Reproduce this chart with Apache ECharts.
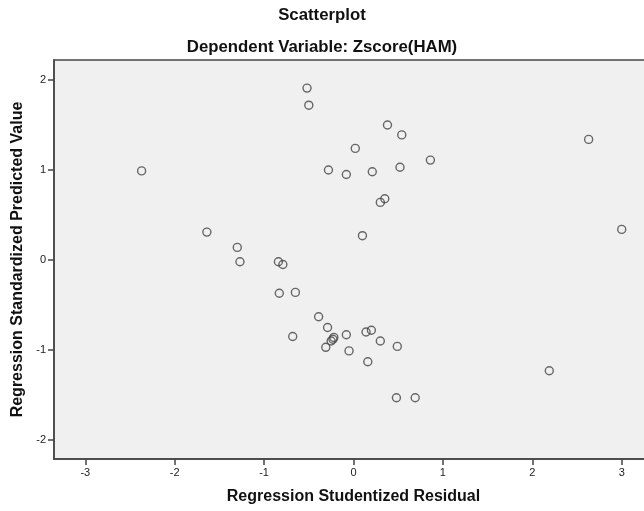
<!DOCTYPE html>
<html>
<head>
<meta charset="utf-8">
<script src="https://cdn.jsdelivr.net/npm/echarts@6/dist/echarts.min.js"></script>
<style>
  html, body { margin: 0; padding: 0; background: #fff; }
  #chart { width: 644px; height: 511px; }
</style>
</head>
<body>
<div id="chart"></div>
<script>
// studentized residual (x) / standardized predicted value (y)
var residuals = [-0.52, -0.50, 0.38, 0.54, 2.63, 0.02, 0.86, -2.37, -0.28, -0.08,
    0.21, 0.52, 0.30, 0.35, 0.10, 3.00, -1.64, -1.30, -1.27, -0.84,
    -0.79, -0.83, -0.65, -0.39, -0.29, -0.68, -0.22, -0.23, -0.25, -0.31,
    -0.08, -0.05, 0.14, 0.20, 0.30, 0.49, 0.16, 2.19, 0.48, 0.69];
var predicted = [1.91, 1.72, 1.50, 1.39, 1.34, 1.24, 1.11, 0.99, 1.00, 0.95,
    0.98, 1.03, 0.64, 0.68, 0.27, 0.34, 0.31, 0.14, -0.02, -0.02,
    -0.05, -0.37, -0.36, -0.63, -0.75, -0.85, -0.86, -0.88, -0.90, -0.97,
    -0.83, -1.01, -0.80, -0.78, -0.90, -0.96, -1.13, -1.23, -1.53, -1.53];
var xTicks = [-3, -2, -1, 0, 1, 2, 3];
var yTicks = [-2, -1, 0, 1, 2];

var chart = echarts.init(document.getElementById('chart'));

var pts = [];
for (var i = 0; i < residuals.length; i++) {
    pts.push([residuals[i], predicted[i]]);
}

var font = 'Arial, "Liberation Sans", sans-serif';

var option = {
    animation: false,
    backgroundColor: '#fff',
    title: [
        {
            text: 'Scatterplot',
            left: 'center',
            top: 2,
            textStyle: { fontFamily: font, fontSize: 16.8, fontWeight: 'bold', color: '#111' }
        },
        {
            text: 'Dependent Variable: Zscore(HAM)',
            left: 'center',
            top: 34,
            textStyle: { fontFamily: font, fontSize: 16.8, fontWeight: 'bold', color: '#111' }
        }
    ],
    grid: {
        left: 54,
        top: 60,
        width: 599,
        height: 399,
        outerBoundsMode: 'none',
        show: true,
        backgroundColor: '#f0f0f0',
        borderColor: '#444',
        borderWidth: 1.5
    },
    xAxis: {
        type: 'value',
        min: -3.35,
        max: 3.35,
        name: 'Regression Studentized Residual',
        nameLocation: 'middle',
        nameGap: 30,
        nameTextStyle: { fontFamily: font, fontSize: 16, fontWeight: 'bold', color: '#111' },
        splitLine: { show: false },
        axisLine: { show: true, onZero: false, lineStyle: { color: '#444', width: 1.5 } },
        axisTick: {
            show: true, length: 6, lineStyle: { color: '#444', width: 1.5 },
            customValues: xTicks
        },
        axisLabel: {
            fontFamily: font, fontSize: 11, color: '#222', margin: 8,
            customValues: xTicks
        }
    },
    yAxis: {
        type: 'value',
        min: -2.211,
        max: 2.222,
        name: 'Regression Standardized Predicted Value',
        nameLocation: 'middle',
        nameGap: 28,
        nameTextStyle: { fontFamily: font, fontSize: 16, fontWeight: 'bold', color: '#111' },
        splitLine: { show: false },
        axisLine: { show: true, onZero: false, lineStyle: { color: '#444', width: 1.5 } },
        axisTick: {
            show: true, length: 6, lineStyle: { color: '#444', width: 1.5 },
            customValues: yTicks
        },
        axisLabel: {
            fontFamily: font, fontSize: 11, color: '#222', margin: 8,
            customValues: yTicks
        }
    },
    series: [
        {
            type: 'scatter',
            data: pts,
            symbol: 'circle',
            symbolSize: 8,
            itemStyle: {
                color: 'rgba(0,0,0,0)',
                borderColor: '#444',
                borderWidth: 1.4
            }
        }
    ]
};

chart.setOption(option);
</script>
</body>
</html>
